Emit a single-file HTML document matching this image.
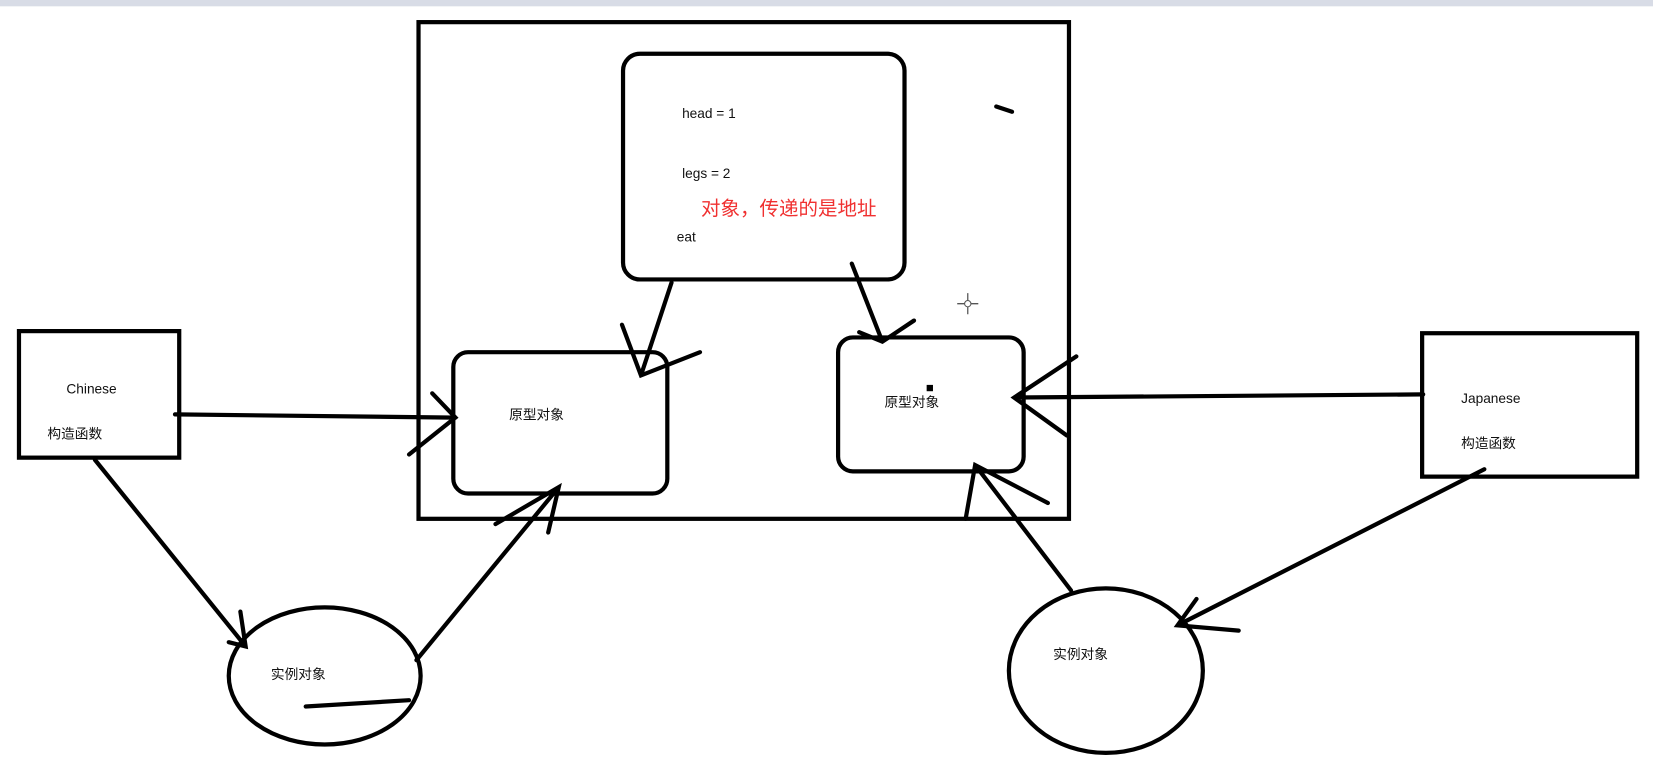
<!DOCTYPE html>
<html><head><meta charset="utf-8"><style>
html,body{margin:0;padding:0;background:#fff;width:1653px;height:774px;overflow:hidden}
svg{display:block}
text{font-family:"Liberation Sans","Noto Sans CJK SC",sans-serif;font-size:13px;fill:#111}
</style></head><body>
<svg width="1653" height="774" viewBox="0 0 1568 734" preserveAspectRatio="none">
<rect x="0" y="0" width="1568" height="6" fill="#d8dce6"/>
<g fill="none" stroke="#000" stroke-width="4" stroke-linecap="round">
<rect x="397" y="21" width="617" height="471"/>
<rect x="591" y="51" width="267" height="214" rx="16"/>
<rect x="430" y="334" width="203" height="134" rx="14"/>
<rect x="795" y="320" width="176" height="127" rx="14"/>
<rect x="18" y="314" width="152" height="120"/>
<rect x="1349" y="316" width="204" height="136"/>
<ellipse cx="308" cy="641" rx="91" ry="65"/>
<ellipse cx="1049" cy="636" rx="92" ry="78"/>
<path d="M166 393 L432 396 M410 373 L432 396 L388 431"/>
<path d="M90 436 L233 613 M228 580 L233 613 L217 609"/>
<path d="M395 626 L530 462 M470 497 L530 462 L520 505"/>
<path d="M290 670 L388 664"/>
<path d="M637 268 L608 356 M590 308 L608 356 L664 334"/>
<path d="M808 250 L837 324 M815 315 L837 324 L867 304"/>
<path d="M1350 374 L962 377 M1021 338 L962 377 L1012 413"/>
<path d="M1408 445 L1117 593 M1135 568 L1117 593 L1175 598"/>
<path d="M1016 560 L925 441 M916 492 L925 441 L994 477"/>
<path d="M945 101 L960 106"/>
</g>
<rect x="879" y="365" width="6" height="6" fill="#000"/>
<g stroke="#555" stroke-width="1.2"><path d="M918 278 V298 M908 288 H928"/></g>
<circle cx="918" cy="288" r="3" fill="#fff" stroke="#555"/>
<text x="647" y="112">head = 1</text>
<text x="647" y="169">legs = 2</text>
<text x="642" y="229">eat</text>
<text x="665" y="204" style="font-size:18.5px;fill:#f03030">对象，传递的是地址</text>
<text x="483" y="398">原型对象</text>
<text x="839" y="386">原型对象</text>
<text x="63" y="373">Chinese</text>
<text x="45" y="416">构造函数</text>
<text x="1386" y="382">Japanese</text>
<text x="1386" y="425">构造函数</text>
<text x="257" y="644">实例对象</text>
<text x="999" y="625">实例对象</text>
</svg>
</body></html>
